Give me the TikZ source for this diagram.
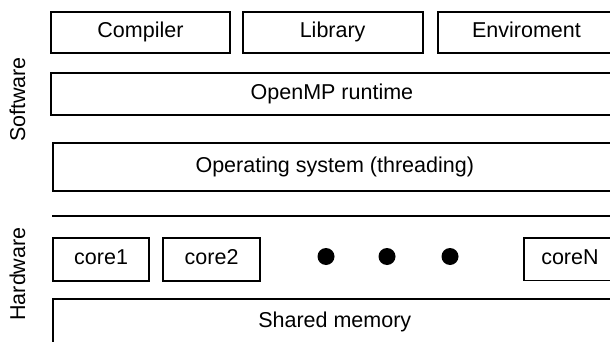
\documentclass[tikz,border=0pt]{standalone}
\usepackage{fontspec}
\setmainfont{Liberation Sans}
\begin{document}
\begin{tikzpicture}[x=1pt,y=-1pt,
  layer/.style={draw=black, line width=1.9pt, inner sep=0pt, anchor=north west,
    text height=15.4pt, text depth=4.5pt,
    font=\fontsize{21.5}{26}\selectfont},
  side/.style={rotate=90, font=\fontsize{21.5}{26}\selectfont, inner sep=0pt},
  dot/.style={circle, fill=black, inner sep=0pt, minimum size=17pt}]
\useasboundingbox (0,0) rectangle (610,342);
% software stack
\node[layer, minimum width=179pt, minimum height=41.5pt] (comp) at (50,10.7) {Compiler};
\node[layer, minimum width=180pt, minimum height=41.5pt] (lib) at (241.7,10.7) {Library};
\node[layer, minimum width=177pt, minimum height=41.5pt] (env) at (437,10.7) {Enviroment};
\node[layer, minimum width=562pt, minimum height=42.3pt] (omp) at (50,71.7) {OpenMP runtime};
\node[layer, minimum width=563pt, minimum height=48.3pt] (os) at (52.3,141.7) {Operating system (threading)};
% separator between software and hardware
\coordinate (sepL) at (52.3,216);
\coordinate (sepR) at (615,216);
\draw[line width=1.9pt] (sepL) -- (sepR);
% hardware
\node[layer, minimum width=95.7pt, minimum height=43pt] (c1) at (52.3,237) {core1};
\node[layer, minimum width=96.7pt, minimum height=43pt] (c2) at (162.3,237) {core2};
\node[layer, minimum width=92pt, minimum height=42.5pt] (cN) at (523,237) {coreN};
\node[dot] (d1) at (326,256.5) {};
\node[dot] (d2) at (387,256.5) {};
\node[dot] (d3) at (450,256.5) {};
\node[layer, minimum width=563pt, minimum height=46pt] (mem) at (52.3,298) {Shared memory};
% side labels
\node[side] (sw) at (17.5,99.5) {Software};
\node[side] (hw) at (17.5,274) {Hardware};
\end{tikzpicture}
\end{document}
